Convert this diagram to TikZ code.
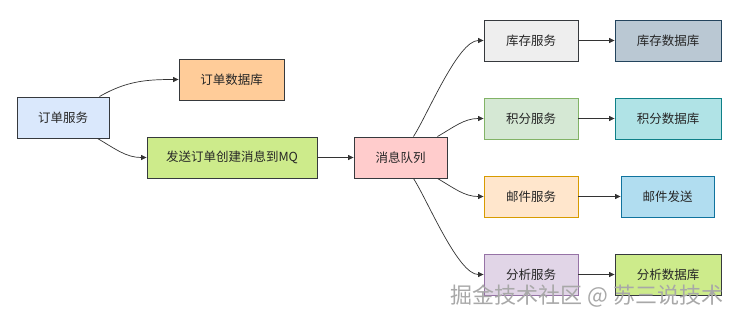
\documentclass[tikz,border=0pt]{standalone}
\usepackage{fontspec}
\setmainfont{Noto Sans CJK SC}
\usetikzlibrary{arrows.meta}
\definecolor{dk}{HTML}{36393D}
\definecolor{cA}{HTML}{DAE8FC}
\definecolor{cB}{HTML}{FFCC99}
\definecolor{cC}{HTML}{CDEB8B}
\definecolor{cD}{HTML}{FFCCCC}
\definecolor{cE}{HTML}{EEEEEE}
\definecolor{cF}{HTML}{BAC8D3}
\definecolor{sF}{HTML}{23445D}
\definecolor{cG}{HTML}{D5E8D4}
\definecolor{sG}{HTML}{82B366}
\definecolor{cH}{HTML}{B0E3E6}
\definecolor{sH}{HTML}{0E8088}
\definecolor{cI}{HTML}{FFE6CC}
\definecolor{sI}{HTML}{D79B00}
\definecolor{cJ}{HTML}{B1DDF0}
\definecolor{sJ}{HTML}{10739E}
\definecolor{cK}{HTML}{E1D5E7}
\definecolor{sK}{HTML}{9673A6}
\definecolor{wm}{HTML}{A8A8A8}
\tikzset{
  box/.style={draw=dk, line width=0.9pt, minimum height=41pt, inner sep=0pt, font=\fontsize{12.5pt}{14pt}\selectfont, text=black!85},
  arr/.style={draw=black!80, line width=0.7pt, -{Triangle[length=5.5pt,width=5pt]}},
}
\begin{document}
\begin{tikzpicture}[x=1pt,y=-1pt]
\useasboundingbox (0,0) rectangle (742,322);
\fill[white] (0,0) rectangle (742,322);
\node[box, fill=cA, minimum width=92pt] (os) at (63,117.5) {订单服务};
\node[box, fill=cB, minimum width=105pt] (odb) at (231.5,79.5) {订单数据库};
\node[box, fill=cC, minimum width=170pt] (send) at (232,157.5) {发送订单创建消息到MQ};
\node[box, fill=cD, minimum width=93pt] (mq) at (400.5,157.5) {消息队列};
\node[box, fill=cE, minimum width=94pt] (kc) at (531,40.5) {库存服务};
\node[box, fill=cF, draw=sF, minimum width=106pt] (kcdb) at (668,40.5) {库存数据库};
\node[box, fill=cG, draw=sG, minimum width=94pt] (jf) at (531,118.5) {积分服务};
\node[box, fill=cH, draw=sH, minimum width=106pt] (jfdb) at (668,118.5) {积分数据库};
\node[box, fill=cI, draw=sI, minimum width=94pt] (yj) at (531,196.5) {邮件服务};
\node[box, fill=cJ, draw=sJ, minimum width=93pt] (yjfs) at (667.5,196.5) {邮件发送};
\node[box, fill=cK, draw=sK, minimum width=94pt] (fx) at (531,274.5) {分析服务};
\node[box, fill=cC, minimum width=106pt] (fxdb) at (668,274.5) {分析数据库};
\draw[arr] ([xshift=-10pt]os.north east) to[out=30,in=180] (odb.west);
\draw[arr] ([xshift=-12pt]os.south east) to[out=-30,in=180] (send.west);
\draw[arr] (send.east) -- (mq.west);
\draw[arr] ([xshift=-34pt]mq.north east) to[out=57,in=180,looseness=0.55] (kc.west);
\draw[arr] ([xshift=-10pt]mq.north east) to[out=30,in=180] (jf.west);
\draw[arr] ([xshift=-10pt]mq.south east) to[out=-30,in=180] (yj.west);
\draw[arr] ([xshift=-34pt]mq.south east) to[out=-57,in=180,looseness=0.55] (fx.west);
\draw[arr] (kc.east) -- (kcdb.west);
\draw[arr] (jf.east) -- (jfdb.west);
\draw[arr] (yj.east) -- (yjfs.west);
\draw[arr] (fx.east) -- (fxdb.west);
\node[font=\fontsize{22pt}{24pt}\selectfont, text=wm, inner sep=0pt] (wm) at (587,296) {掘金技术社区 @ 苏三说技术};
\end{tikzpicture}
\end{document}
